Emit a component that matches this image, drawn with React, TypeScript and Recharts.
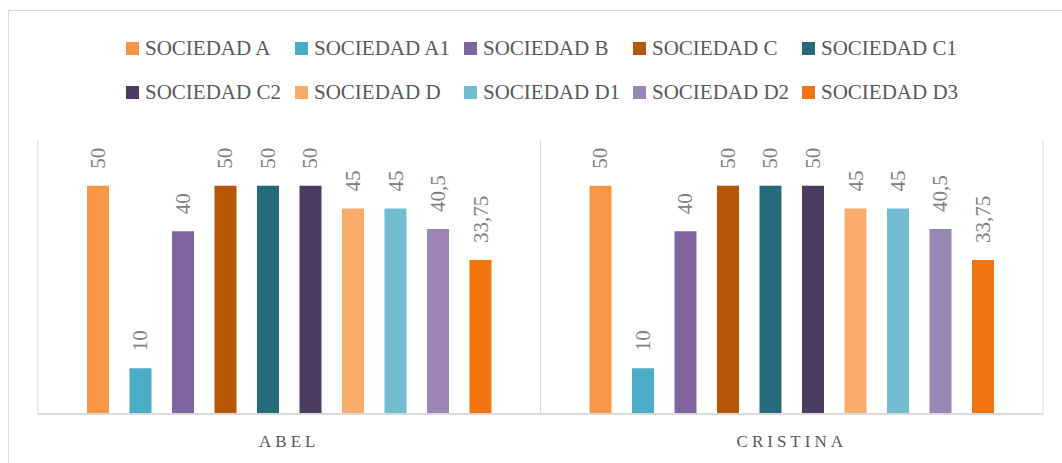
import React from "react"
import { BarChart, Bar, XAxis, YAxis, CartesianGrid, Legend, LabelList } from "recharts"

const people = ["ABEL", "CRISTINA"]

const sociedades = [
  "SOCIEDAD A",
  "SOCIEDAD A1",
  "SOCIEDAD B",
  "SOCIEDAD C",
  "SOCIEDAD C1",
  "SOCIEDAD C2",
  "SOCIEDAD D",
  "SOCIEDAD D1",
  "SOCIEDAD D2",
  "SOCIEDAD D3",
]

const abelValues = [50, 10, 40, 50, 50, 50, 45, 45, 40.5, 33.75]
const cristinaValues = [50, 10, 40, 50, 50, 50, 45, 45, 40.5, 33.75]

const colors = [
  "#F79646",
  "#4BACC6",
  "#8064A2",
  "#B65708",
  "#276A7C",
  "#4D3B62",
  "#F9AB6B",
  "#71BCD1",
  "#9B84B6",
  "#F3750F",
]

const valuesByPerson = [abelValues, cristinaValues]

const data = people.map((name, i) => {
  const row: Record<string, string | number> = { name }
  sociedades.forEach((_, j) => {
    row["s" + j] = valuesByPerson[i][j]
  })
  return row
})

const serif = "'Liberation Serif', 'Times New Roman', serif"

const fmt = (v: number) => String(v).replace(".", ",")

const ValueLabel = (props: any) => {
  const { x, y, width, value } = props
  const cx = x + width / 2
  const ly = y - 17
  return (
    <text
      x={cx}
      y={ly}
      transform={`rotate(-90, ${cx}, ${ly})`}
      textAnchor="start"
      dominantBaseline="central"
      fill="#808080"
      fontSize={21}
      fontFamily={serif}
    >
      {fmt(value)}
    </text>
  )
}

const CategoryTick = (props: any) => {
  const { x, y, payload } = props
  return (
    <text
      x={x}
      y={y + 33}
      textAnchor="middle"
      fill="#595959"
      fontSize={17}
      fontFamily={serif}
      letterSpacing={4}
    >
      {payload.value}
    </text>
  )
}

const LegendGrid = (props: any) => {
  const items = props.payload || []
  return (
    <div
      style={{
        display: "grid",
        gridTemplateColumns: "repeat(5, 169px)",
        gridAutoRows: "44px",
        fontFamily: serif,
        fontSize: 21,
        color: "#595959",
      }}
    >
      {items.map((it: any) => (
        <div key={it.value} style={{ display: "flex", alignItems: "center", whiteSpace: "nowrap" }}>
          <span style={{ width: 13, height: 13, background: it.color, marginRight: 6, flex: "none" }} />
          <span>{it.value}</span>
        </div>
      ))}
    </div>
  )
}

export default function App() {
  return (
    <div
      style={{
        position: "absolute",
        left: 0,
        top: 0,
        width: 1062,
        height: 463,
        overflow: "hidden",
        background: "#fff",
      }}
    >
      <div
        style={{
          position: "absolute",
          left: 8,
          top: 10,
          width: 1100,
          height: 500,
          border: "1px solid #d9d9d9",
        }}
      />
      <div style={{ position: "absolute", left: 0, top: 0 }}>
        <BarChart
          width={1062}
          height={463}
          data={data}
          margin={{ top: 140, left: 38, right: 19, bottom: 19 }}
          barSize={22}
          barGap={20.5}
        >
          <CartesianGrid
            horizontal={false}
            vertical
            stroke="#d9d9d9"
            verticalCoordinatesGenerator={({ offset }: any) => [
              offset.left,
              offset.left + offset.width / 2,
              offset.left + offset.width,
            ]}
          />
          <XAxis
            dataKey="name"
            height={30}
            axisLine={{ stroke: "#d9d9d9", strokeWidth: 2 }}
            tickLine={false}
            tickSize={0}
            tickMargin={0}
            tick={<CategoryTick />}
            interval={0}
          />
          <YAxis hide domain={[0, 60]} />
          <Legend
            layout="horizontal"
            verticalAlign="middle"
            align="center"
            content={<LegendGrid />}
            wrapperStyle={{ position: "absolute", top: 26, left: 126, width: 860, height: 88 }}
          />
          {sociedades.map((s, j) => (
            <Bar key={s} dataKey={"s" + j} name={s} fill={colors[j]} isAnimationActive={false}>
              <LabelList dataKey={"s" + j} content={<ValueLabel />} />
            </Bar>
          ))}
        </BarChart>
      </div>
    </div>
  )
}
